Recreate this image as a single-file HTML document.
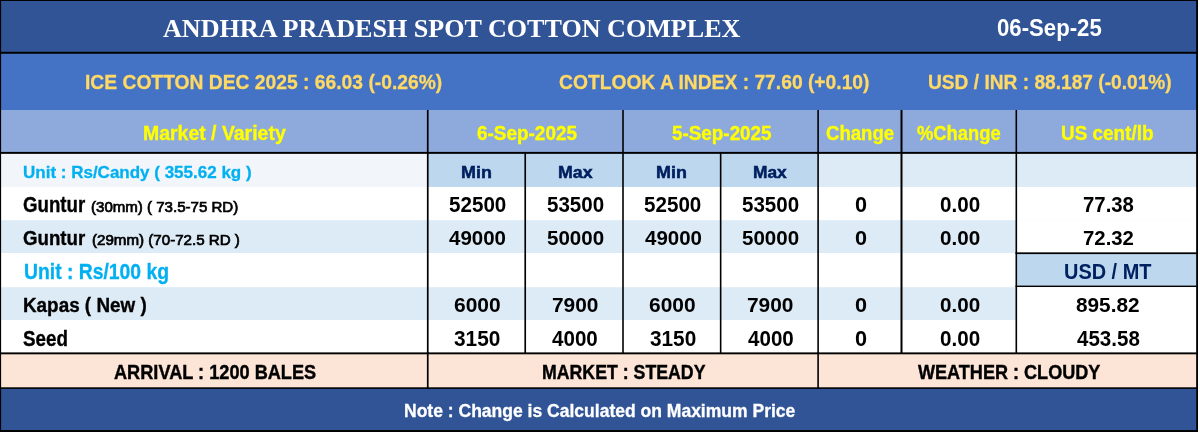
<!DOCTYPE html>
<html lang="en">
<head>
<meta charset="utf-8">
<title>Andhra Pradesh Spot Cotton Complex</title>
<style>
html,body{margin:0;padding:0;background:#fff;}
body{width:1200px;height:432px;overflow:hidden;}
#sheet{position:relative;width:1200px;height:432px;overflow:hidden;background:#fff;}
#grid{position:absolute;left:0;top:0;width:1200px;height:432px;display:block;}
.row{position:static;margin:0;padding:0;}
.t{position:absolute;white-space:pre;line-height:1;transform-origin:0 50%;display:block;margin:0;padding:0;}
</style>
</head>
<body>
<div id="sheet">
<!-- cell fills and grid lines -->
<svg id="grid" width="1200" height="432" viewBox="0 0 1200 432" aria-hidden="true">
<rect x="0" y="0" width="1197.95" height="432" fill="#305496"/>
<rect x="0" y="52.5" width="1196.65" height="379.5" fill="#4472C4"/>
<rect x="0" y="110" width="1196.65" height="322" fill="#8EA9DB"/>
<rect x="0" y="153" width="1196.65" height="279" fill="#DDEBF7"/>
<rect x="0" y="153" width="427.4" height="279" fill="#F2F6FB"/>
<rect x="428.1" y="153" width="389.7" height="279" fill="#BDD7EE"/>
<rect x="0" y="187" width="1196.65" height="245" fill="#fff"/>
<rect x="0" y="220.2" width="1196.65" height="211.8" fill="#DDEBF7"/>
<rect x="1016.6" y="220.2" width="180.05" height="211.8" fill="#fff"/>
<rect x="0" y="253" width="1196.65" height="179" fill="#fff"/>
<rect x="1016.6" y="253" width="180.05" height="179" fill="#BDD7EE"/>
<rect x="0" y="287.2" width="1196.65" height="144.8" fill="#DDEBF7"/>
<rect x="1016.6" y="287.2" width="180.05" height="144.8" fill="#fff"/>
<rect x="0" y="320" width="1196.65" height="112" fill="#fff"/>
<rect x="0" y="353.5" width="1196.65" height="78.5" fill="#FCE4D6"/>
<rect x="0" y="388" width="1196.65" height="44" fill="#305496"/>
<rect x="0" y="0" width="1197.95" height="1" fill="#000"/>
<rect x="0" y="51.8" width="1197.95" height="1.95" fill="#000"/>
<rect x="0" y="151.9" width="1197.95" height="1.95" fill="#000"/>
<rect x="0" y="352.4" width="1197.95" height="1.9" fill="#000"/>
<rect x="0" y="387.3" width="1197.95" height="1.6" fill="#000"/>
<rect x="0" y="430.05" width="1197.95" height="1.95" fill="#000"/>
<rect x="0" y="0" width="1.1" height="432" fill="#000"/>
<rect x="1196.15" y="0" width="1.8" height="432" fill="#000"/>
<rect x="426.9" y="110" width="1.7" height="243.8" fill="#000"/>
<rect x="622.2" y="110" width="1.6" height="243.8" fill="#000"/>
<rect x="817.3" y="110" width="1.6" height="243.8" fill="#000"/>
<rect x="1015.5" y="110" width="1.6" height="243.8" fill="#000"/>
<rect x="900.5" y="110" width="2" height="243.8" fill="#000"/>
<rect x="524.4" y="152.3" width="1.65" height="201.5" fill="#000"/>
<rect x="719.85" y="152.3" width="1.6" height="201.5" fill="#000"/>
<rect x="426.9" y="352.4" width="1.7" height="36.5" fill="#000"/>
<rect x="817.3" y="352.4" width="1.6" height="36.5" fill="#000"/>
<rect x="1015.5" y="252.35" width="182.45" height="1.75" fill="#000"/>
<rect x="1015.5" y="285.6" width="182.45" height="1.4" fill="#000"/>
</svg>
<!-- Title bar -->
<div class="row" id="title">
<span class="t" style="left:162.7px;top:16px;font:bold 26px/1 'Liberation Serif',serif;color:#fff;transform:scaleX(1.0035);">ANDHRA PRADESH SPOT COTTON COMPLEX</span>
<span class="t" style="left:997.21px;top:16px;font:bold 23.8px/1 'Liberation Sans',sans-serif;color:#fff;transform:scaleX(0.9315);">06-Sep-25</span>
</div>
<!-- Futures / index / FX ticker -->
<div class="row" id="ticker">
<span class="t" style="left:84.85px;top:72px;font:bold 20.6px/1 'Liberation Sans',sans-serif;color:#FFD966;transform:scaleX(0.9356);-webkit-text-stroke:0.3px #FFD966;">ICE COTTON DEC 2025 : 66.03 (-0.26%)</span>
<span class="t" style="left:558.95px;top:72px;font:bold 20.6px/1 'Liberation Sans',sans-serif;color:#FFD966;transform:scaleX(0.935);-webkit-text-stroke:0.3px #FFD966;">COTLOOK A INDEX : 77.60 (+0.10)</span>
<span class="t" style="left:928.45px;top:72px;font:bold 20.6px/1 'Liberation Sans',sans-serif;color:#FFD966;transform:scaleX(0.9299);-webkit-text-stroke:0.3px #FFD966;">USD / INR : 88.187 (-0.01%)</span>
</div>
<!-- Column headers -->
<div class="row" id="head">
<span class="t" style="left:142.76px;top:123px;font:bold 20.6px/1 'Liberation Sans',sans-serif;color:#FFFF00;transform:scaleX(0.9444);-webkit-text-stroke:0.35px #FFFF00;">Market / Variety</span>
<span class="t" style="left:476.58px;top:123px;font:bold 20.6px/1 'Liberation Sans',sans-serif;color:#FFFF00;transform:scaleX(0.9194);-webkit-text-stroke:0.35px #FFFF00;">6-Sep-2025</span>
<span class="t" style="left:672.38px;top:123px;font:bold 20.6px/1 'Liberation Sans',sans-serif;color:#FFFF00;transform:scaleX(0.9157);-webkit-text-stroke:0.35px #FFFF00;">5-Sep-2025</span>
<span class="t" style="left:826.29px;top:123px;font:bold 20.6px/1 'Liberation Sans',sans-serif;color:#FFFF00;transform:scaleX(0.9028);-webkit-text-stroke:0.35px #FFFF00;">Change</span>
<span class="t" style="left:917.39px;top:123px;font:bold 20.6px/1 'Liberation Sans',sans-serif;color:#FFFF00;transform:scaleX(0.8917);-webkit-text-stroke:0.35px #FFFF00;">%Change</span>
<span class="t" style="left:1060.99px;top:123px;font:bold 20.6px/1 'Liberation Sans',sans-serif;color:#FFFF00;transform:scaleX(0.9179);-webkit-text-stroke:0.35px #FFFF00;">US cent/lb</span>
</div>
<!-- Unit and Min/Max sub-header -->
<div class="row" id="sub">
<span class="t" style="left:23.05px;top:164px;font:bold 17.07px/1 'Liberation Sans',sans-serif;color:#00B0F0;transform:scaleX(0.9963);-webkit-text-stroke:0.3px #00B0F0;">Unit : Rs/Candy ( 355.62 kg )</span>
<span class="t" style="left:460.93px;top:164px;font:bold 17.07px/1 'Liberation Sans',sans-serif;color:#002060;transform:scaleX(1.051);-webkit-text-stroke:0.5px #002060;">Min</span>
<span class="t" style="left:557.64px;top:164px;font:bold 17.07px/1 'Liberation Sans',sans-serif;color:#002060;transform:scaleX(1.0419);-webkit-text-stroke:0.5px #002060;">Max</span>
<span class="t" style="left:656.33px;top:164px;font:bold 17.07px/1 'Liberation Sans',sans-serif;color:#002060;transform:scaleX(1.051);-webkit-text-stroke:0.5px #002060;">Min</span>
<span class="t" style="left:753.16px;top:164px;font:bold 17.07px/1 'Liberation Sans',sans-serif;color:#002060;transform:scaleX(1.0171);-webkit-text-stroke:0.5px #002060;">Max</span>
</div>
<!-- Guntur 30mm -->
<div class="row" id="r1">
<span class="t" style="left:23.39px;top:194px;font:bold 21.2px/1 'Liberation Sans',sans-serif;color:#000;transform:scaleX(0.8804);-webkit-text-stroke:0.35px #000;">Guntur</span>
<span class="t" style="left:91.14px;top:200px;font:normal 14.65px/1 'Liberation Sans',sans-serif;color:#000;transform:scaleX(1.028);-webkit-text-stroke:0.7px #000;">(30mm) ( 73.5-75 RD)</span>
<span class="t" style="left:449.08px;top:194px;font:bold 21.2px/1 'Liberation Sans',sans-serif;color:#000;transform:scaleX(0.973);">52500</span>
<span class="t" style="left:546.88px;top:194px;font:bold 21.2px/1 'Liberation Sans',sans-serif;color:#000;transform:scaleX(0.9695);">53500</span>
<span class="t" style="left:644.48px;top:194px;font:bold 21.2px/1 'Liberation Sans',sans-serif;color:#000;transform:scaleX(0.973);">52500</span>
<span class="t" style="left:741.88px;top:194px;font:bold 21.2px/1 'Liberation Sans',sans-serif;color:#000;transform:scaleX(0.9695);">53500</span>
<span class="t" style="left:855.12px;top:194px;font:bold 21.2px/1 'Liberation Sans',sans-serif;color:#000;transform:scaleX(1.0225);">0</span>
<span class="t" style="left:939.65px;top:194px;font:bold 21.2px/1 'Liberation Sans',sans-serif;color:#000;transform:scaleX(0.9738);">0.00</span>
<span class="t" style="left:1082.86px;top:194px;font:bold 21.2px/1 'Liberation Sans',sans-serif;color:#000;transform:scaleX(0.9603);">77.38</span>
</div>
<!-- Guntur 29mm -->
<div class="row" id="r2">
<span class="t" style="left:23.39px;top:229px;font:bold 19.91px/1 'Liberation Sans',sans-serif;color:#000;transform:scaleX(0.9374);-webkit-text-stroke:0.35px #000;">Guntur</span>
<span class="t" style="left:91.64px;top:233px;font:normal 14.65px/1 'Liberation Sans',sans-serif;color:#000;transform:scaleX(1.0329);-webkit-text-stroke:0.7px #000;">(29mm) (70-72.5 RD )</span>
<span class="t" style="left:449.4px;top:229px;font:bold 19.91px/1 'Liberation Sans',sans-serif;color:#000;transform:scaleX(1.0301);">49000</span>
<span class="t" style="left:546.88px;top:229px;font:bold 19.91px/1 'Liberation Sans',sans-serif;color:#000;transform:scaleX(1.0323);">50000</span>
<span class="t" style="left:644.8px;top:229px;font:bold 19.91px/1 'Liberation Sans',sans-serif;color:#000;transform:scaleX(1.0301);">49000</span>
<span class="t" style="left:741.88px;top:229px;font:bold 19.91px/1 'Liberation Sans',sans-serif;color:#000;transform:scaleX(1.0323);">50000</span>
<span class="t" style="left:855.12px;top:229px;font:bold 19.91px/1 'Liberation Sans',sans-serif;color:#000;transform:scaleX(1.0888);">0</span>
<span class="t" style="left:939.65px;top:229px;font:bold 19.91px/1 'Liberation Sans',sans-serif;color:#000;transform:scaleX(1.0369);">0.00</span>
<span class="t" style="left:1082.86px;top:229px;font:bold 19.91px/1 'Liberation Sans',sans-serif;color:#000;transform:scaleX(1.0225);">72.32</span>
</div>
<!-- Unit Rs/100 kg -->
<div class="row" id="r3">
<span class="t" style="left:23.84px;top:261px;font:bold 21.2px/1 'Liberation Sans',sans-serif;color:#00B0F0;transform:scaleX(0.9126);-webkit-text-stroke:0.3px #00B0F0;">Unit : Rs/100 kg</span>
<span class="t" style="left:1063.57px;top:261px;font:bold 21.2px/1 'Liberation Sans',sans-serif;color:#002060;transform:scaleX(0.9401);">USD / MT</span>
</div>
<!-- Kapas -->
<div class="row" id="r4">
<span class="t" style="left:22.9px;top:296px;font:bold 19.91px/1 'Liberation Sans',sans-serif;color:#000;transform:scaleX(0.9476);-webkit-text-stroke:0.35px #000;">Kapas ( New )</span>
<span class="t" style="left:453.94px;top:296px;font:bold 19.91px/1 'Liberation Sans',sans-serif;color:#000;transform:scaleX(1.0545);">6000</span>
<span class="t" style="left:551.75px;top:296px;font:bold 19.91px/1 'Liberation Sans',sans-serif;color:#000;transform:scaleX(1.0499);">7900</span>
<span class="t" style="left:649.45px;top:296px;font:bold 19.91px/1 'Liberation Sans',sans-serif;color:#000;transform:scaleX(1.0522);">6000</span>
<span class="t" style="left:747.25px;top:296px;font:bold 19.91px/1 'Liberation Sans',sans-serif;color:#000;transform:scaleX(1.0499);">7900</span>
<span class="t" style="left:855.12px;top:296px;font:bold 19.91px/1 'Liberation Sans',sans-serif;color:#000;transform:scaleX(1.0888);">0</span>
<span class="t" style="left:939.65px;top:296px;font:bold 19.91px/1 'Liberation Sans',sans-serif;color:#000;transform:scaleX(1.0369);">0.00</span>
<span class="t" style="left:1075.95px;top:296px;font:bold 19.91px/1 'Liberation Sans',sans-serif;color:#000;transform:scaleX(1.0439);">895.82</span>
</div>
<!-- Seed -->
<div class="row" id="r5">
<span class="t" style="left:23.48px;top:328px;font:bold 21.2px/1 'Liberation Sans',sans-serif;color:#000;transform:scaleX(0.887);-webkit-text-stroke:0.35px #000;">Seed</span>
<span class="t" style="left:454.27px;top:328px;font:bold 21.2px/1 'Liberation Sans',sans-serif;color:#000;transform:scaleX(0.9832);">3150</span>
<span class="t" style="left:552.4px;top:328px;font:bold 21.2px/1 'Liberation Sans',sans-serif;color:#000;transform:scaleX(0.9719);">4000</span>
<span class="t" style="left:649.78px;top:328px;font:bold 21.2px/1 'Liberation Sans',sans-serif;color:#000;transform:scaleX(0.981);">3150</span>
<span class="t" style="left:747.9px;top:328px;font:bold 21.2px/1 'Liberation Sans',sans-serif;color:#000;transform:scaleX(0.9719);">4000</span>
<span class="t" style="left:855.12px;top:328px;font:bold 21.2px/1 'Liberation Sans',sans-serif;color:#000;transform:scaleX(1.0225);">0</span>
<span class="t" style="left:939.65px;top:328px;font:bold 21.2px/1 'Liberation Sans',sans-serif;color:#000;transform:scaleX(0.9738);">0.00</span>
<span class="t" style="left:1076.6px;top:328px;font:bold 21.2px/1 'Liberation Sans',sans-serif;color:#000;transform:scaleX(0.9702);">453.58</span>
</div>
<!-- Arrival / market / weather -->
<div class="row" id="status">
<span class="t" style="left:114.02px;top:363px;font:bold 19.91px/1 'Liberation Sans',sans-serif;color:#000;transform:scaleX(0.9124);-webkit-text-stroke:0.4px #000;">ARRIVAL : 1200 BALES</span>
<span class="t" style="left:542.09px;top:363px;font:bold 19.91px/1 'Liberation Sans',sans-serif;color:#000;transform:scaleX(0.8904);-webkit-text-stroke:0.4px #000;">MARKET : STEADY</span>
<span class="t" style="left:918px;top:363px;font:bold 19.91px/1 'Liberation Sans',sans-serif;color:#000;transform:scaleX(0.9078);-webkit-text-stroke:0.4px #000;">WEATHER : CLOUDY</span>
</div>
<!-- Footer note -->
<div class="row" id="note">
<span class="t" style="left:403.65px;top:403px;font:bold 17.53px/1 'Liberation Sans',sans-serif;color:#fff;transform:scaleX(1.0001);-webkit-text-stroke:0.3px #fff;">Note : Change is Calculated on Maximum Price</span>
</div>
</div>
</body>
</html>
